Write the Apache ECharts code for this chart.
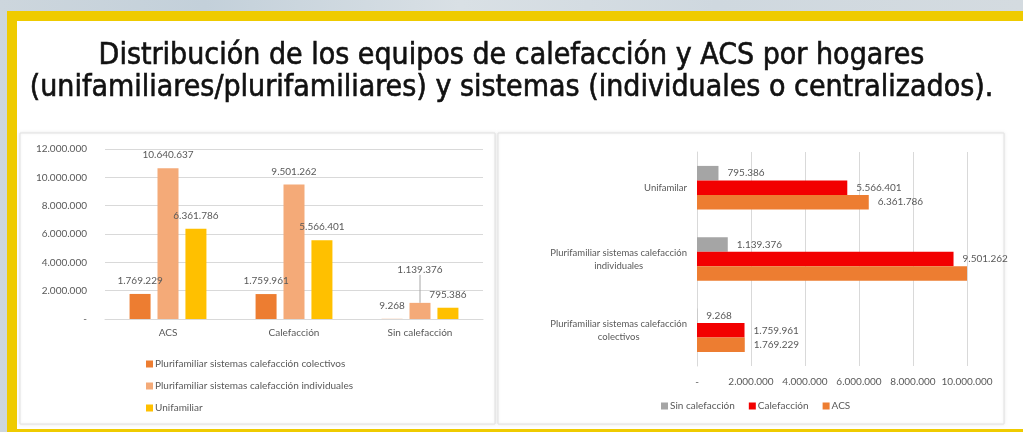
<!DOCTYPE html>
<html>
<head>
<meta charset="utf-8">
<script src="https://cdn.jsdelivr.net/npm/echarts@6/dist/echarts.min.js"></script>
<style>
  html, body { margin: 0; padding: 0; background: #fff; }
  #chart { width: 1023px; height: 432px; }
</style>
</head>
<body>
<div id="chart"></div>
<script>
// Column chart: equipment type on the axis, one series per dwelling type
const colCategories = ['ACS', 'Calefacción', 'Sin calefacción'];
const colSeriesNames = [
  'Plurifamiliar sistemas calefacción colectivos',
  'Plurifamiliar sistemas calefacción individuales',
  'Unifamiliar'
];
const colColectivos = [1769229, 1759961, 9268];
const colIndividuales = [10640637, 9501262, 1139376];
const colUnifamiliar = [6361786, 5566401, 795386];

// Bar chart: dwelling type on the axis (bottom to top), one series per equipment type
const barCategories = [
  'Plurifamiliar sistemas calefacción\ncolectivos',
  'Plurifamiliar sistemas calefacción\nindividuales',
  'Unifamilar'
];
const barACS = [1769229, 10640637, 6361786];
const barCalefaccion = [1759961, 9501262, 5566401];
const barSinCalefaccion = [9268, 1139376, 795386];

const titleLines = [
  'Distribución de los equipos de calefacción y ACS por hogares',
  '(unifamiliares/plurifamiliares) y sistemas (individuales o centralizados).'
];

const fmt = v => (v === 0 ? '-' : Math.round(v).toString().replace(/\B(?=(\d{3})+(?!\d))/g, '.'));

const FONT = 'Lato, "Open Sans", sans-serif';
const GREY = '#595959';
const GRID_LINE = '#d9d9d9';

const chart = echarts.init(document.getElementById('chart'), null, { renderer: 'canvas' });

const labelBase = { show: true, color: GREY, fontSize: 10, fontFamily: FONT, formatter: p => fmt(p.value) };

function colSeries(name, data, color, liftIdx) {
  return {
    name, type: 'bar', xAxisIndex: 0, yAxisIndex: 0,
    // a lifted label gets a leader line back to its bar
    data: data.map((v, i) => (i === liftIdx
      ? { value: v, labelLine: { show: true, lineStyle: { color: '#a6a6a6', width: 1 } } }
      : v)),
    barWidth: 21, barGap: '33%',
    itemStyle: { color },
    labelLine: { show: false },
    labelLayout: p => (p.dataIndex === liftIdx ? { dy: -20 } : {}),
    label: Object.assign({ position: 'top', distance: 8 }, labelBase)
  };
}

function barSeries(name, data, color, hideIdx) {
  return {
    name, type: 'bar', xAxisIndex: 1, yAxisIndex: 1,
    data: data.map((v, i) => (i === hideIdx ? { value: v, label: { show: false } } : v)),
    barGap: 0, barCategoryGap: '39%',
    itemStyle: { color },
    clip: true,
    label: Object.assign({ position: 'right', distance: 9 }, labelBase)
  };
}

const option = {
  animation: false,
  backgroundColor: '#ffffff',
  textStyle: { fontFamily: FONT },
  graphic: [
    // photo strip behind the frame
    { type: 'rect', z: -10, shape: { x: 0, y: 0, width: 1023, height: 432 },
      style: { fill: new echarts.graphic.LinearGradient(0, 0, 1, 0, [
        { offset: 0, color: '#cdd6dd' }, { offset: 0.2, color: '#c3d0da' },
        { offset: 0.45, color: '#d9e0e5' }, { offset: 0.7, color: '#cfd8df' },
        { offset: 1, color: '#d4dbe0' }]) } },
    // yellow frame
    { type: 'rect', z: -9, shape: { x: 7, y: 11, width: 1016, height: 421 }, style: { fill: '#efcb00' } },
    // white sheet
    { type: 'rect', z: -8, shape: { x: 17, y: 21, width: 1006, height: 408 }, style: { fill: '#ffffff' } },
    // chart panels
    { type: 'rect', z: -7, shape: { x: 20, y: 133, width: 475, height: 291 },
      style: { fill: '#ffffff', stroke: '#e2e2e2', lineWidth: 1, shadowBlur: 3, shadowColor: 'rgba(0,0,0,0.08)' } },
    { type: 'rect', z: -7, shape: { x: 498, y: 133, width: 506, height: 291 },
      style: { fill: '#ffffff', stroke: '#e2e2e2', lineWidth: 1, shadowBlur: 3, shadowColor: 'rgba(0,0,0,0.08)' } }
  ],
  title: {
    text: titleLines.join('\n'),
    left: 'center',
    top: 35,
    textStyle: {
      fontFamily: '"Liberation Sans Narrow", "DejaVu Sans Condensed", sans-serif',
      fontSize: 30, fontWeight: 'normal', color: '#111', lineHeight: 32,
      textBorderColor: '#111', textBorderWidth: 0.6
    }
  },
  legend: [
    {
      data: colSeriesNames,
      orient: 'vertical', left: 141, top: 354,
      itemWidth: 7, itemHeight: 7, itemGap: 12,
      icon: 'rect',
      textStyle: { color: GREY, fontSize: 10, fontFamily: FONT, padding: [0, 0, 0, -3] }
    },
    {
      data: ['Sin calefacción', 'Calefacción', 'ACS'],
      orient: 'horizontal', left: 656, top: 396,
      itemWidth: 7, itemHeight: 7, itemGap: 14,
      icon: 'rect',
      textStyle: { color: GREY, fontSize: 10, fontFamily: FONT, padding: [0, 0, 0, -3] }
    }
  ],
  grid: [
    { left: 105, right: 540, top: 149, bottom: 113, containLabel: false, outerBoundsMode: 'none' },
    { left: 697, right: 56, top: 152, bottom: 66, containLabel: false, outerBoundsMode: 'none' }
  ],
  xAxis: [
    {
      gridIndex: 0, type: 'category', data: colCategories,
      axisLine: { lineStyle: { color: GRID_LINE } }, axisTick: { show: false },
      axisLabel: { color: GREY, fontSize: 10, fontFamily: FONT, margin: 9 }
    },
    {
      gridIndex: 1, type: 'value', min: 0, max: 10000000, interval: 2000000,
      axisLine: { show: false }, axisTick: { show: false },
      splitLine: { lineStyle: { color: GRID_LINE } },
      axisLabel: { color: GREY, fontSize: 10, fontFamily: FONT, margin: 11, formatter: fmt }
    }
  ],
  yAxis: [
    {
      gridIndex: 0, type: 'value', min: 0, max: 12000000, interval: 2000000,
      axisLine: { show: false }, axisTick: { show: false },
      splitLine: { lineStyle: { color: GRID_LINE } },
      axisLabel: { color: GREY, fontSize: 10, fontFamily: FONT, margin: 18, formatter: fmt }
    },
    {
      gridIndex: 1, type: 'category', data: barCategories,
      axisLine: { show: true, lineStyle: { color: GRID_LINE } }, axisTick: { show: false },
      axisLabel: {
        color: GREY, fontSize: 9.5, fontFamily: FONT, margin: 10, lineHeight: 13,
        formatter: v => v.split('\n').map(l => '{c|' + l + '}').join('\n'),
        rich: { c: { align: 'center', color: GREY, fontSize: 9.5, fontFamily: FONT, lineHeight: 13 } }
      }
    }
  ],
  series: [
    colSeries(colSeriesNames[0], colColectivos, '#ed7d31'),
    colSeries(colSeriesNames[1], colIndividuales, '#f4aa78', 2),
    colSeries(colSeriesNames[2], colUnifamiliar, '#ffc000'),
    // within each band the first series sits on top
    barSeries('Sin calefacción', barSinCalefaccion, '#a5a5a5'),
    barSeries('Calefacción', barCalefaccion, '#f20000'),
    barSeries('ACS', barACS, '#ed7d31', 1)
  ]
};

chart.setOption(option);
</script>
</body>
</html>
